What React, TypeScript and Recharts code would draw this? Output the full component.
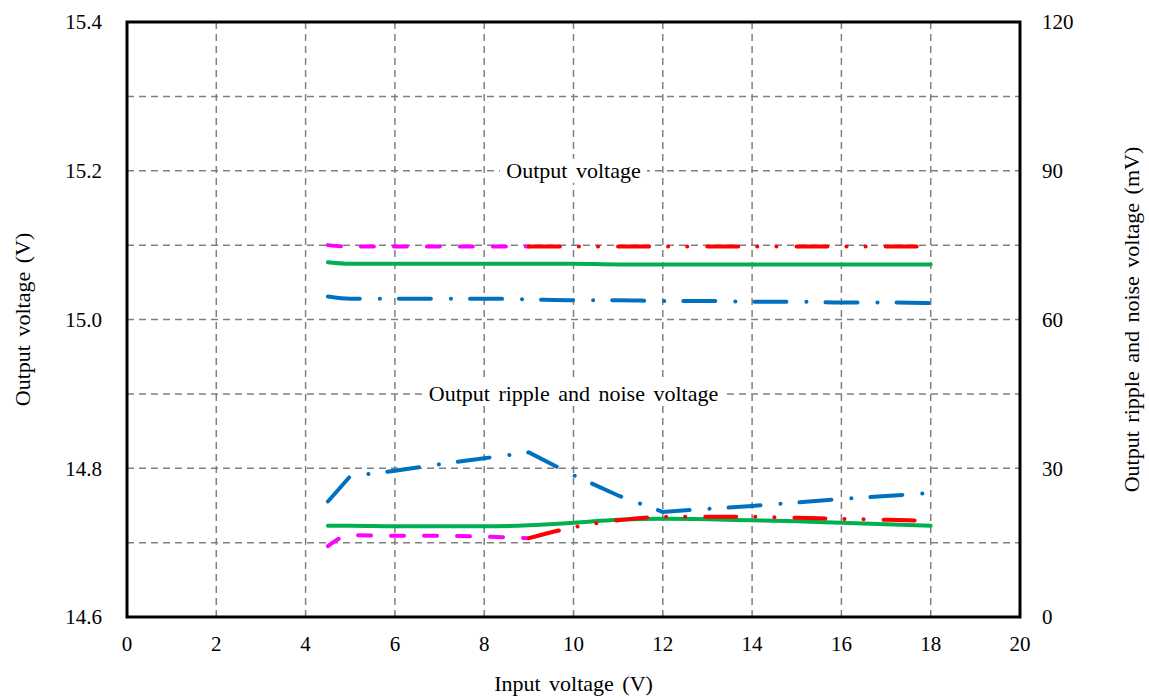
import {
  LineChart,
  Line,
  XAxis,
  YAxis,
  CartesianGrid,
  ReferenceArea,
  ReferenceDot,
  Label,
} from "recharts"

// input voltage (V)
const inputV = [4.5, 5, 6, 7, 8, 9, 10, 11, 12, 13, 14, 15, 16, 17, 18]

// output voltage (V), left axis
const voutBlue = [15.031, 15.028, 15.028, 15.028, 15.028, 15.027, 15.026, 15.026, 15.025, 15.025, 15.024, 15.024, 15.023, 15.023, 15.022]
const voutGreen = [15.077, 15.075, 15.075, 15.075, 15.075, 15.075, 15.075, 15.074, 15.074, 15.074, 15.074, 15.074, 15.074, 15.074, 15.074]
const voutMagenta = [15.1, 15.098, 15.098, 15.098, 15.098, 15.098]
const voutRed = [15.098, 15.098, 15.098, 15.098, 15.098, 15.098, 15.098, 15.098, 15.098, 15.098]

// output ripple and noise (mV), right axis
const rippleBlue = [23.3, 28.4, 29.5, 30.8, 32.0, 33.2, 28.6, 24.5, 21.2, 21.8, 22.4, 23.1, 23.8, 24.4, 25.0]
const rippleGreen = [18.4, 18.4, 18.3, 18.3, 18.3, 18.5, 19.0, 19.6, 19.8, 19.7, 19.5, 19.3, 19.0, 18.7, 18.4]
const rippleMagenta = [14.3, 16.5, 16.4, 16.4, 16.2, 15.9]
const rippleRed = [15.9, 18.1, 19.5, 20.2, 20.2, 20.2, 20.0, 19.8, 19.6, 19.4]

const xTicks = [0, 2, 4, 6, 8, 10, 12, 14, 16, 18, 20]
const leftTicks = [14.6, 14.7, 14.8, 14.9, 15.0, 15.1, 15.2, 15.3, 15.4]
const rightTicks = [0, 30, 60, 90, 120]

const toRows = (xs: number[], ys: number[]) => ys.map((y, i) => ({ x: xs[i], y }))
const fromNine = inputV.slice(5)

const font = "'Liberation Serif', 'Times New Roman', serif"
const labelStyle = { fontFamily: font, fontSize: 22, fill: "#000", wordSpacing: 3 }

const BLUE = "#0070C0"
const GREEN = "#00B050"
const MAGENTA = "#FF00FF"
const RED = "#FF0000"

const DASH = "13 20"
const DASH_DOT = "32 20 0.1 19"
const DASH_DOT_DOT = "31 19 0.1 19 0.1 20"

// serif tick text; anchor and baseline come from the axis
const SerifTick = (props: any) => {
  const { x, y, payload, textAnchor, tickFormatter, index, dy } = props
  const txt = tickFormatter ? tickFormatter(payload.value, index) : String(payload.value)
  if (!txt) return null
  return (
    <text x={x} y={y} dy={dy} textAnchor={textAnchor} fontFamily={font} fontSize={21} fill="#000">
      {txt}
    </text>
  )
}

const XTick = (props: any) => <SerifTick {...props} dy="0.75em" />
const YTick = (props: any) => <SerifTick {...props} dy="0.35em" />

const annotation = (text: string, w: number) => (props: any) => (
  <g>
    <rect x={props.cx - w / 2} y={props.cy - 12} width={w} height={24} fill="#fff" />
    <text
      x={props.cx}
      y={props.cy}
      textAnchor="middle"
      dominantBaseline="central"
      style={labelStyle}
    >
      {text}
    </text>
  </g>
)

export default function App() {
  return (
    <div style={{ position: "absolute", left: 0, top: 0 }}>
      <LineChart width={1149} height={698} margin={{ top: 22, right: 0, bottom: 0, left: 0 }}>
        <CartesianGrid stroke="#808080" strokeWidth={1.5} strokeDasharray="7 5" />
        <XAxis
          dataKey="x"
          type="number"
          domain={[0, 20]}
          ticks={xTicks}
          interval={0}
          height={81}
          tickLine={false}
          axisLine={false}
          tickMargin={12}
          tick={<XTick />}
          allowDuplicatedCategory={false}
        >
          <Label value="Input voltage (V)" position="center" dy={26} style={labelStyle} />
        </XAxis>
        <YAxis
          type="number"
          domain={[14.6, 15.4]}
          ticks={leftTicks}
          interval={0}
          width={127}
          tickLine={false}
          axisLine={false}
          tickMargin={19}
          tick={<YTick />}
          tickFormatter={(v: number, i: number) => (i % 2 === 0 ? v.toFixed(1) : "")}
        >
          <Label value="Output voltage (V)" angle={-90} position="center" dx={-41} style={labelStyle} />
        </YAxis>
        <YAxis
          yAxisId="right"
          orientation="right"
          type="number"
          domain={[0, 120]}
          ticks={rightTicks}
          interval={0}
          width={129}
          tickLine={false}
          axisLine={false}
          tickMargin={16}
          tick={<YTick />}
        >
          <Label
            value="Output ripple  and noise voltage (mV)"
            angle={-90}
            position="center"
            dx={47}
            style={labelStyle}
          />
        </YAxis>

        <ReferenceArea x1={0} x2={20} y1={14.6} y2={15.4} fill="none" stroke="#000" strokeWidth={3} />

        <Line data={toRows(inputV, voutBlue)} dataKey="y" type="monotone" stroke={BLUE} strokeWidth={4} strokeDasharray={DASH_DOT} strokeLinecap="round" dot={false} isAnimationActive={false} />
        <Line data={toRows(inputV, voutGreen)} dataKey="y" type="monotone" stroke={GREEN} strokeWidth={4} strokeLinecap="round" dot={false} isAnimationActive={false} />
        <Line data={toRows(inputV, voutMagenta)} dataKey="y" type="monotone" stroke={MAGENTA} strokeWidth={4} strokeDasharray={DASH} strokeLinecap="round" dot={false} isAnimationActive={false} />
        <Line data={toRows(fromNine, voutRed)} dataKey="y" type="monotone" stroke={RED} strokeWidth={4} strokeDasharray={DASH_DOT_DOT} strokeLinecap="round" dot={false} isAnimationActive={false} />

        <Line yAxisId="right" data={toRows(inputV, rippleBlue)} dataKey="y" type="linear" stroke={BLUE} strokeWidth={4} strokeDasharray={DASH_DOT} strokeLinecap="round" dot={false} isAnimationActive={false} />
        <Line yAxisId="right" data={toRows(inputV, rippleGreen)} dataKey="y" type="monotone" stroke={GREEN} strokeWidth={4} strokeLinecap="round" dot={false} isAnimationActive={false} />
        <Line yAxisId="right" data={toRows(inputV, rippleMagenta)} dataKey="y" type="monotone" stroke={MAGENTA} strokeWidth={4} strokeDasharray={DASH} strokeLinecap="round" dot={false} isAnimationActive={false} />
        <Line yAxisId="right" data={toRows(fromNine, rippleRed)} dataKey="y" type="monotone" stroke={RED} strokeWidth={4} strokeDasharray={DASH_DOT_DOT} strokeLinecap="round" dot={false} isAnimationActive={false} />

        <ReferenceDot x={10} y={15.2} r={0} shape={annotation("Output voltage", 147)} />
        <ReferenceDot x={10} y={14.9} r={0} shape={annotation("Output ripple  and noise  voltage", 300)} />
      </LineChart>
    </div>
  )
}
